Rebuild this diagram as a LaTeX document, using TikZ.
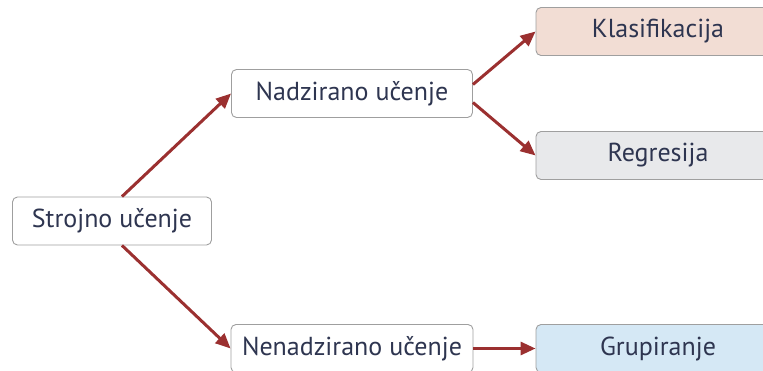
\documentclass[tikz,border=0pt]{standalone}
\usepackage{fontspec}
\setmainfont{PT Sans}
\usetikzlibrary{arrows.meta}
\definecolor{txtblue}{HTML}{2E3550}
\definecolor{arrred}{HTML}{9B3030}
\definecolor{klasfill}{HTML}{F2DDD4}
\definecolor{regfill}{HTML}{E8E9EB}
\definecolor{grupfill}{HTML}{D5E8F5}
\begin{document}
\begin{tikzpicture}[x=1pt,y=1pt,grow'=right]
   \tikzstyle{level 1}=[sibling distance=255pt, level distance=240pt]
   \tikzstyle{level 2}=[sibling distance=124pt, level distance=306pt]
   \tikzstyle{every node}=[draw=gray!75, line width=0.9pt, rounded corners=5pt, fill=white, text=txtblue, font=\fontsize{26}{30}\selectfont, minimum width=199pt, minimum height=48pt]
   \tikzstyle{arr}=[draw=arrred, line width=3pt, -{Triangle[length=15pt,width=13pt]}]
   \useasboundingbox (0,0) rectangle (763,-371);

\node (strojno) at (112,-221) {Strojno učenje}
    child {node (nadzirano) [minimum width=241pt] {Nadzirano učenje} edge from parent[draw=none]
        child {node (klasif) [fill=klasfill, minimum width=244pt] {Klasifikacija} edge from parent[draw=none]}
        child {node (regres) [fill=regfill, minimum width=244pt] {Regresija} edge from parent[draw=none]}
    }
    child {node (nenadzirano) [minimum width=242pt] {Nenadzirano učenje} edge from parent[draw=none]
        child {node (grupir) [fill=grupfill, minimum width=244pt] {Grupiranje} edge from parent[draw=none]}
    };

\draw[arr] ([xshift=10pt]strojno.north) -- (nadzirano.west);
\draw[arr] ([xshift=10pt]strojno.south) -- (nenadzirano.west);
\draw[arr] ([yshift=9pt]nadzirano.east) -- (klasif.west);
\draw[arr] ([yshift=-9pt]nadzirano.east) -- (regres.west);
\draw[arr] (nenadzirano) -- (grupir);

\end{tikzpicture}
\end{document}
